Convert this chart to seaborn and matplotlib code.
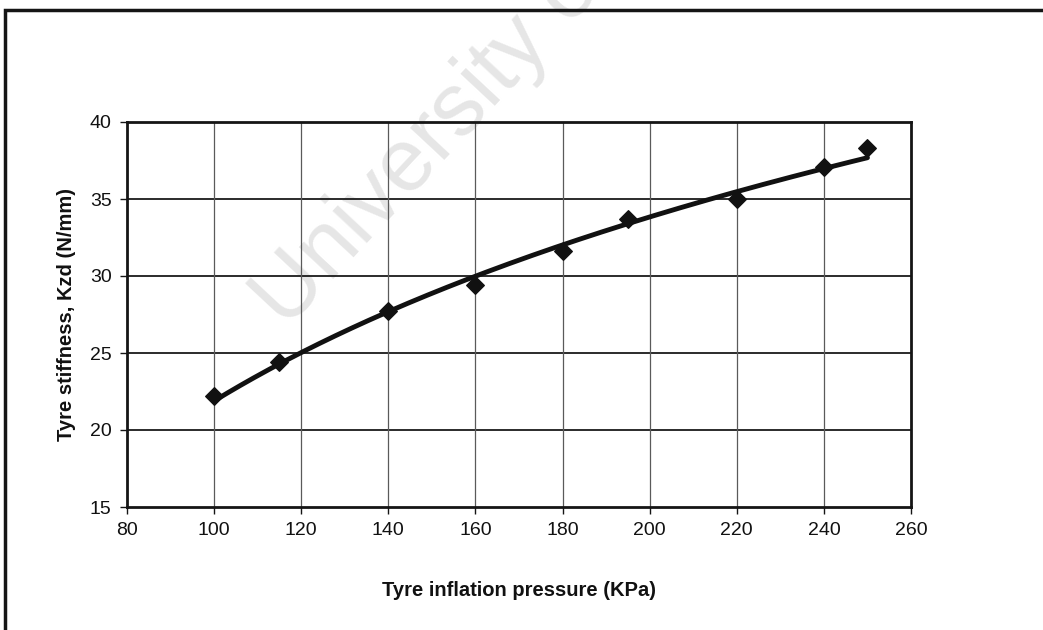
import numpy as np
import matplotlib
matplotlib.use("Agg")
import matplotlib.pyplot as plt
from matplotlib.patches import Rectangle
import seaborn as sns

# Measured tyre stiffness against inflation pressure
pressure = [100, 115, 140, 160, 180, 195, 220, 240, 250]
stiffness = [22.2, 24.4, 27.7, 29.4, 31.6, 33.7, 35.0, 37.1, 38.3]
x_ticks = [80, 100, 120, 140, 160, 180, 200, 220, 240, 260]
y_ticks = [15, 20, 25, 30, 35, 40]

sns.set_theme(style="white")
plt.rcParams["font.family"] = ["Liberation Sans", "DejaVu Sans"]

W, H = 1043, 630
fig = plt.figure(figsize=(W / 100, H / 100), dpi=100)
fig.patch.set_facecolor("white")

# faint watermark behind the chart
fig.text(286 / W, 1 - 330 / H, "University of Cape Town", rotation=47,
         rotation_mode="anchor", ha="left", va="baseline",
         fontsize=64, color="#e6e6e6", zorder=-1)

# outer chart frame (runs off the right and bottom edges)
fig.patches.append(Rectangle((5 / W, -0.2), 1.5, 1.2 - 10 / H,
                             transform=fig.transFigure, fill=False,
                             lw=2.5, ec="#151515", zorder=1))

ax = fig.add_axes([127 / W, 1 - 507 / H, (911 - 127) / W, (507 - 122) / H])
ax.set_facecolor("none")

# logarithmic trend line fitted to the measurements
coef = np.polyfit(np.log(pressure), stiffness, 1)
xs = np.linspace(min(pressure), max(pressure), 200)
sns.lineplot(x=xs, y=coef[0] * np.log(xs) + coef[1], ax=ax,
             color="#111111", lw=3.5, zorder=3)
sns.scatterplot(x=pressure, y=stiffness, ax=ax, marker="D", s=80,
                color="#111111", edgecolor="#111111", linewidth=1, zorder=4)

ax.set_xlim(80, 260)
ax.set_ylim(15, 40)
ax.set_xticks(x_ticks)
ax.set_yticks(y_ticks)
ax.set_xticklabels([str(v) for v in x_ticks])
ax.set_yticklabels([str(v) for v in y_ticks])

for v in y_ticks[1:-1]:
    ax.axhline(v, color="#1a1a1a", lw=1.3, zorder=1)
for v in x_ticks[1:-1]:
    ax.axvline(v, color="#5a5a5a", lw=0.9, zorder=1)

for s in ax.spines.values():
    s.set_visible(True)
    s.set_color("#151515")
    s.set_linewidth(2.0)

ax.tick_params(axis="both", which="major", direction="out", length=5,
               width=1, color="#151515", labelsize=14, labelcolor="#111111",
               bottom=True, left=True, pad=6)

ax.set_xlabel("Tyre inflation pressure (KPa)", fontsize=14.5,
              fontweight="bold", color="#111111", labelpad=30)
ax.set_ylabel("Tyre stiffness, Kzd (N/mm)", fontsize=14.5,
              fontweight="bold", color="#111111", labelpad=10)

fig.savefig("out.png", dpi=100)
